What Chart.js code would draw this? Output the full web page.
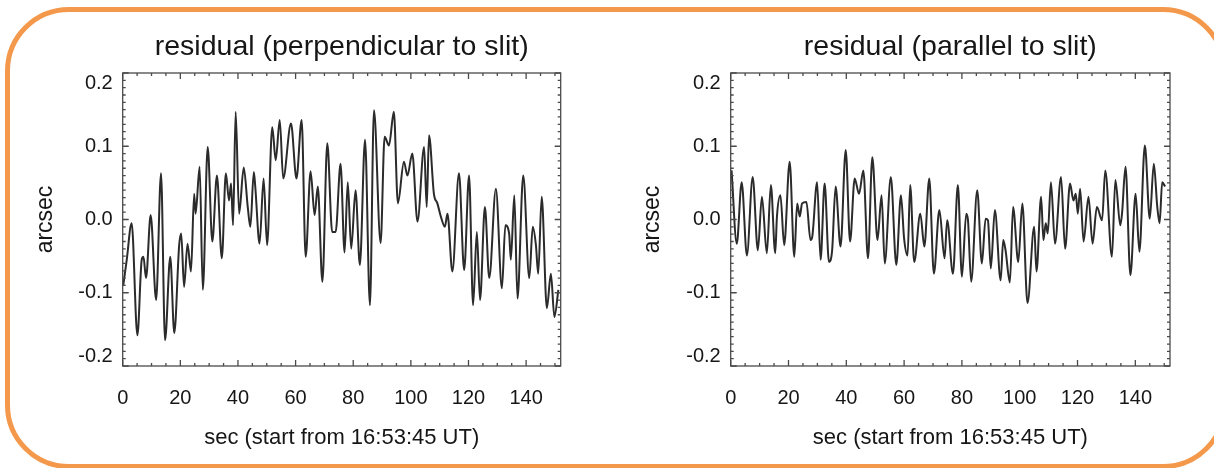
<!DOCTYPE html>
<html>
<head>
<meta charset="utf-8">
<title>residual</title>
<script src="https://cdn.jsdelivr.net/npm/chart.js@4.4.1/dist/chart.umd.min.js"></script>
<style>
    body { margin: 0; background: #fff; width: 1214px; height: 468px; overflow: hidden; position: relative; }
    #frame {
        position: absolute; left: 5px; top: 7px; width: 1212px; height: 452px;
        border: 5px solid #f4984c; border-radius: 64px;
    }
    canvas { position: absolute; top: 0; }
    #perpChart { left: 0; }
    #paraChart { left: 607px; }
</style>
</head>
<body>
<div id="frame"></div>
<canvas id="perpChart" width="607" height="468"></canvas>
<canvas id="paraChart" width="607" height="468"></canvas>

<script>
// === DATA ===
const perpTime = [0.2, 1.4, 3.1, 5.1, 6.6, 7.2, 8.1, 9.7, 11.6, 13.3, 14.7, 16.5, 17.9, 19.6, 20.3, 21.3, 22.5, 23.7, 24.8, 25.3,
    26.7, 27.8, 29.5, 31.1, 32.7, 34.4, 35.8, 36.9, 37.6, 38.3, 39.2, 40.4, 42.0, 43.4, 44.3, 45.5, 46.0, 47.5, 48.9, 50.1,
    51.9, 53.1, 54.5, 55.7, 58.4, 60.3, 62.1, 63.5, 65.2, 66.6, 67.7, 69.3, 71.0, 72.7, 73.9, 75.6, 77.0, 78.1, 79.3, 80.8,
    82.3, 84.1, 85.8, 87.2, 89.5, 90.9, 92.4, 94.1, 95.5, 97.6, 98.8, 100.5, 102.3, 104.6, 105.5, 106.3, 108.0, 109.2, 110.4, 111.8,
    112.7, 114.4, 116.7, 118.5, 120.2, 121.6, 122.9, 124.0, 125.7, 127.2, 129.5, 131.6, 132.8, 134.1, 134.7, 135.9, 137.0, 139.0, 141.1, 142.3,
    143.4, 144.2, 145.4, 147.2, 148.6, 149.8, 151.2];
const perpValue = [-0.09, -0.055, -0.005, -0.158, -0.055, -0.051, -0.08, 0.006, -0.11, 0.063, -0.165, -0.051, -0.155, -0.035, -0.019, -0.092, -0.033, -0.071, 0.035, 0.008,
    0.072, -0.096, 0.099, -0.03, 0.06, -0.053, 0.063, 0.026, 0.049, -0.008, 0.147, 0.008, 0.071, 0.017, -0.01, 0.065, 0.045, -0.033, 0.056, -0.035,
    0.126, 0.081, 0.136, 0.056, 0.131, 0.056, 0.136, -0.051, 0.066, 0.006, 0.045, -0.085, 0.104, -0.017, -0.017, 0.076, -0.045, 0.051, -0.04, 0.04,
    -0.062, 0.109, -0.117, 0.149, -0.032, 0.113, 0.101, 0.147, 0.022, 0.079, 0.06, 0.09, -0.003, 0.099, 0.017, 0.115, 0.035, 0.022, 0.004, -0.01,
    0.008, -0.071, 0.063, -0.069, 0.06, -0.117, -0.017, -0.11, 0.017, -0.08, 0.042, -0.094, -0.008, -0.019, -0.055, 0.033, -0.108, 0.06, -0.08, -0.01,
    -0.035, -0.074, 0.031, -0.121, -0.074, -0.133, -0.096];

const paraTime = [0.3, 2.1, 3.8, 5.6, 7.6, 9.4, 10.8, 12.5, 13.9, 15.4, 16.0, 17.2, 18.5, 20.4, 22.0, 23.0, 23.9, 24.7, 26.2, 27.6,
    28.2, 29.9, 31.1, 32.5, 34.0, 35.1, 36.3, 38.0, 39.8, 41.3, 42.9, 44.4, 45.9, 47.5, 49.0, 50.8, 52.2, 53.3, 55.4, 57.3,
    58.9, 60.0, 61.2, 62.1, 63.5, 65.6, 67.0, 68.7, 70.3, 72.2, 74.0, 74.9, 76.9, 78.6, 80.0, 81.5, 82.1, 83.2, 85.3, 86.9,
    88.2, 89.0, 90.0, 91.4, 93.4, 94.3, 95.1, 96.6, 97.7, 99.5, 100.9, 102.7, 105.0, 105.8, 107.4, 108.2, 109.0, 109.7, 110.8, 112.2,
    114.3, 115.7, 117.4, 118.6, 119.4, 120.1, 120.9, 122.1, 123.8, 125.2, 126.7, 128.5, 129.6, 131.9, 133.1, 134.8, 135.4, 136.6, 138.3, 140.1,
    141.4, 143.3, 145.0, 146.4, 147.6, 148.4, 149.3, 150.3];
const paraValue = [0.067, -0.033, 0.051, -0.049, 0.058, -0.042, 0.031, -0.046, 0.047, -0.046, 0.004, 0.033, -0.035, 0.079, -0.051, 0.022, 0.004, 0.022, 0.024, -0.028,
    -0.024, 0.051, -0.055, 0.049, -0.058, -0.042, 0.045, -0.037, 0.095, -0.03, 0.056, 0.035, 0.067, -0.053, 0.085, -0.028, 0.033, -0.06, 0.058, -0.062,
    0.033, -0.026, -0.049, 0.047, -0.058, 0.008, -0.037, 0.056, -0.074, 0.013, -0.053, -0.001, -0.074, 0.047, -0.078, 0.008, -0.001, -0.085, 0.04, -0.06,
    0.001, -0.001, -0.067, 0.013, -0.083, -0.028, -0.042, -0.086, 0.017, -0.058, 0.022, -0.114, -0.01, -0.071, 0.031, -0.028, -0.005, -0.019, 0.051, -0.033,
    0.058, -0.04, 0.049, 0.026, 0.035, 0.008, 0.042, -0.03, 0.031, -0.033, 0.017, -0.001, 0.067, -0.051, 0.054, -0.008, 0.008, 0.072, -0.076, 0.035,
    -0.044, 0.101, 0.001, 0.076, 0.017, -0.005, 0.051, 0.045];

// axis ranges and tick steps
const xMin = 0, xMax = 152, xMajor = 20, xMinor = 5;
const yMin = -0.2, yMax = 0.2, yMajor = 0.1, yMinor = 0.01;
const xTitle = "sec (start from 16:53:45 UT)";
const yTitle = "arcsec";

const FONT = "'Liberation Sans', Arial, Helvetica, sans-serif";
const INK = "#161616";

// BOX + INWARD TICKS (IDL style), placed through the chart's own scales
const idlFrame = {
    id: "idlFrame",
    afterDraw(chart) {
        const { ctx, chartArea: a, scales: { x, y } } = chart;
        ctx.save();
        ctx.strokeStyle = "#4a4a4a";
        ctx.lineWidth = 1.3;
        ctx.strokeRect(a.left, a.top, a.width, a.height);

        ctx.beginPath();
        for (let i = 0; xMin + i * xMinor <= xMax; i++) {
            const v = xMin + i * xMinor;
            const px = x.getPixelForValue(v);
            const len = v % xMajor === 0 ? 6 : 3;
            ctx.moveTo(px, a.bottom); ctx.lineTo(px, a.bottom - len);
            ctx.moveTo(px, a.top); ctx.lineTo(px, a.top + len);
        }
        const n = Math.round((yMax - yMin) / yMinor);
        for (let i = 0; i <= n; i++) {
            const py = y.getPixelForValue(yMin + i * yMinor);
            const len = i % Math.round(yMajor / yMinor) === 0 ? 6 : 3;
            ctx.moveTo(a.left, py); ctx.lineTo(a.left + len, py);
            ctx.moveTo(a.right, py); ctx.lineTo(a.right - len, py);
        }
        ctx.stroke();
        ctx.restore();
    }
};

function makeChart(id, title, times, values, yAxisWidth, rightPad) {
    return new Chart(document.getElementById(id), {
        type: "line",
        data: {
            datasets: [{
                data: times.map((t, i) => ({ x: t, y: values[i] })),
                borderColor: "#2b2b2b",
                borderWidth: 2,
                pointRadius: 0,
                cubicInterpolationMode: "monotone",
                fill: false
            }]
        },
        options: {
            responsive: false,
            animation: false,
            layout: { padding: { left: 0, right: rightPad, top: 0, bottom: 0 } },
            plugins: {
                legend: { display: false },
                tooltip: { enabled: false },
                title: {
                    display: true,
                    text: title,
                    fullSize: false,
                    color: INK,
                    font: { family: FONT, size: 28.5, weight: "normal" },
                    padding: { top: 29.9, bottom: 8.9 }
                }
            },
            scales: {
                x: {
                    type: "linear",
                    min: xMin, max: xMax,
                    grid: { display: false, drawTicks: false },
                    border: { display: false },
                    ticks: {
                        stepSize: xMajor,
                        includeBounds: false,
                        maxRotation: 0,
                        autoSkip: false,
                        padding: 20.5,
                        color: INK,
                        font: { family: FONT, size: 20 }
                    },
                    title: {
                        display: true,
                        text: xTitle,
                        color: INK,
                        font: { family: FONT, size: 22 },
                        padding: { top: 0, bottom: 17 }
                    },
                    afterFit: s => { s.height = 102; }
                },
                y: {
                    min: yMin, max: yMax,
                    grid: { display: false, drawTicks: false },
                    border: { display: false },
                    ticks: {
                        stepSize: yMajor,
                        padding: 10,
                        color: INK,
                        font: { family: FONT, size: 20, lineHeight: 1.0 },
                        // end labels sit inside the box like the original
                        callback: v => {
                            const s = (Math.abs(v) < 1e-9 ? 0 : v).toFixed(1);
                            if (v > yMax - 1e-9) return ["", s];
                            if (v < yMin + 1e-9) return [s, ""];
                            return s;
                        }
                    },
                    title: {
                        display: true,
                        text: yTitle,
                        color: INK,
                        font: { family: FONT, size: 23 },
                        padding: { top: 31.5, bottom: 0 }
                    },
                    afterFit: s => { s.width = yAxisWidth; }
                }
            }
        },
        plugins: [idlFrame]
    });
}

makeChart("perpChart", "residual (perpendicular to slit)", perpTime, perpValue, 122.7, 46.3);
makeChart("paraChart", "residual (parallel to slit)", paraTime, paraValue, 123.7, 44);
</script>
</body>
</html>
